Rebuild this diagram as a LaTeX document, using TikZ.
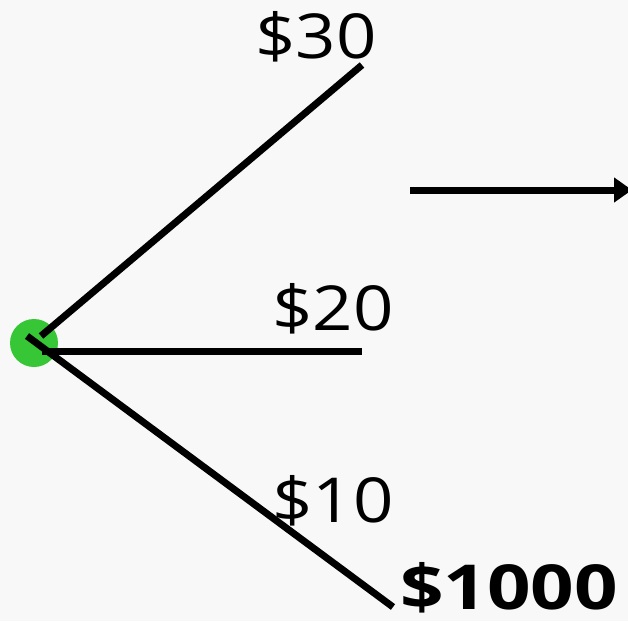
\documentclass[tikz,border=0pt]{standalone}
\usepackage{fontspec}
\setmainfont{Open Sans}[FakeStretch=1.14]
\newfontfamily\widebold{Open Sans}[FakeStretch=1.23]
\usetikzlibrary{arrows.meta}
\definecolor{bggray}{HTML}{F8F8F8}
\definecolor{dotgreen}{HTML}{36C636}
\begin{document}
\begin{tikzpicture}[x=1pt,y=-1pt,>={Triangle[length=18pt,width=24pt]},
  branch/.style={line width=7pt},
  price/.style={anchor=base west,font=\fontsize{62}{62}\selectfont,inner sep=0pt}]
\fill[bggray] (0,0) rectangle (628,621);
\useasboundingbox (0,0) rectangle (628,621);

\node[circle,fill=dotgreen,minimum size=48pt,inner sep=0pt] (root) at (34,343) {};
\coordinate (s30) at (41,336);
\coordinate (s20) at (42,351);
\coordinate (s10) at (27,336);
\coordinate (e30) at (362,65);
\coordinate (e20) at (362,351);
\coordinate (e10) at (393,607);
\draw[branch] (s30) -- (e30);
\draw[branch] (s20) -- (e20);
\draw[branch] (s10) -- (e10);

\coordinate (a0) at (410,190);
\coordinate (a1) at (632,190);
\draw[->,line width=7pt] (a0) -- (a1);

\node[price] (p30) at (255,58) {\$30};
\node[price] (p20) at (272,330) {\$20};
\node[price] (p10) at (272,522) {\$10};
\node[price,font=\fontsize{62}{62}\selectfont\widebold\bfseries] (big) at (400,609) {\$1000};
\end{tikzpicture}
\end{document}
